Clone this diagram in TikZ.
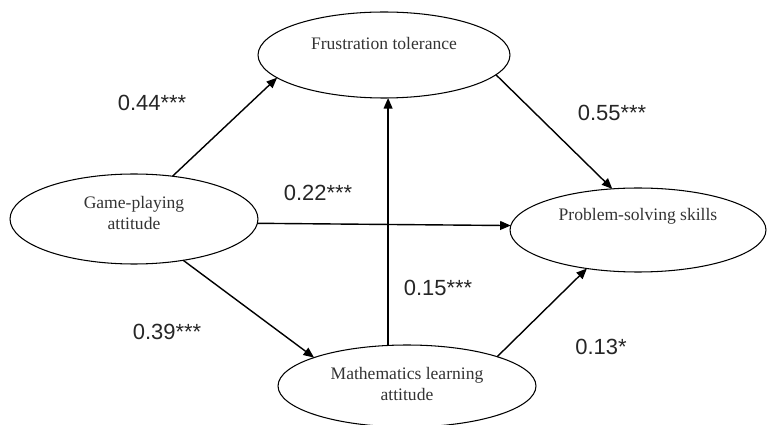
\documentclass[tikz,border=0pt]{standalone}
\usepackage{fontspec}
\setmainfont{Liberation Serif}
\newfontfamily\coeffont{Liberation Sans}
\usetikzlibrary{shapes.geometric,arrows.meta}

\begin{document}
\begin{tikzpicture}[x=0.02cm,y=-0.02cm,>={Triangle[length=6pt,width=5pt]},
  var/.style={draw,ellipse,line width=0.6pt,inner sep=0pt,outer sep=0pt},
  vartext/.style={font=\fontsize{10}{12}\selectfont,align=center,text=black!80},
  coef/.style={font=\coeffont\fontsize{12.5}{14}\selectfont,text=black!85},
  effect/.style={->,line width=0.8pt}]
  \useasboundingbox (0,0) rectangle (767,425);
  % latent variables
  \node[var,minimum width=5.04cm,minimum height=1.72cm] (ft) at (384,55) {};
  \node[var,minimum width=4.96cm,minimum height=1.8cm] (gp) at (134,219) {};
  \node[var,minimum width=5.12cm,minimum height=1.68cm] (ps) at (638,230) {};
  \node[var,minimum width=5.16cm,minimum height=1.64cm] (ml) at (407,386) {};
  \node[vartext] (ftT) at (384,43) {Frustration tolerance};
  \node[vartext] (gpT) at (134,213) {Game-playing\\attitude};
  \node[vartext] (psT) at (638,216) {Problem-solving skills};
  \node[vartext] (mlT) at (407,384) {Mathematics learning\\attitude};
  % paths
  \draw[effect] (gp.48) -- (ft.192);
  \draw[effect] (ft.-10) -- (ps.122);
  \draw[effect] (gp.-2) -- (ps.178);
  \draw[effect] (gp.-40) -- (ml.163);
  \draw[effect] (ml.115) -- (ml.115 |- ft.south);
  \draw[effect] (ml.18) -- (ps.217);
  % coefficients
  \node[coef] (c1) at (152,103) {0.44***};
  \node[coef] (c2) at (612,113) {0.55***};
  \node[coef] (c3) at (318,193) {0.22***};
  \node[coef] (c4) at (438,288) {0.15***};
  \node[coef] (c5) at (167,332) {0.39***};
  \node[coef] (c6) at (601,347) {0.13*};
\end{tikzpicture}
\end{document}
